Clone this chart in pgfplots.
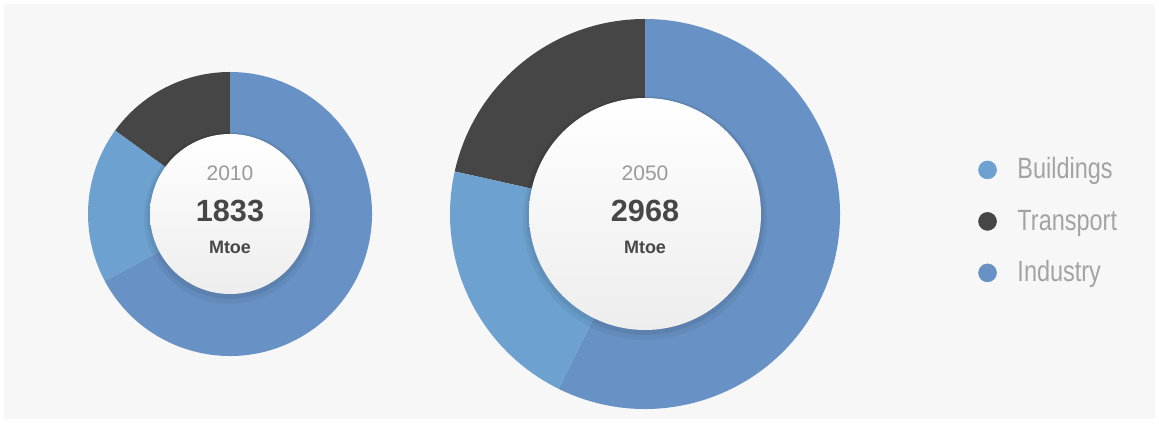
\documentclass[border=0pt]{standalone}
\usepackage{fontspec}
\setmainfont{Liberation Sans}
\newfontfamily\legfont[FakeStretch=0.8]{Liberation Sans}
\usepackage{pgfplots}
\usepackage{pgfplotstable}
\pgfplotsset{compat=1.18}

\definecolor{cind}{HTML}{6892C5}
\definecolor{cbuild}{HTML}{6DA2D0}
\definecolor{ctrans}{HTML}{464646}
\definecolor{cbg}{HTML}{F7F7F7}
\definecolor{cyear}{HTML}{9A9A9A}
\definecolor{ctotal}{HTML}{474747}
\definecolor{cleg}{HTML}{A3A3A3}

% shares in percent, centre and radii in pixels of the original
\pgfplotstableread{
year total buildings transport industry cx  cy  rout rin
2010 1833  17.8      15.0      67.2     230 209 142  80
2050 2968  21.2      21.5      57.3     645 209 195  116
}\donuts

\tikzset{
  yearlab/.style={font=\fontsize{15.75}{18}\selectfont, text=cyear, inner sep=0pt},
  totlab/.style={font=\bfseries\fontsize{23}{26}\selectfont, text=ctotal, inner sep=0pt},
  unitlab/.style={font=\bfseries\fontsize{13.5}{16}\selectfont, text=ctotal, inner sep=0pt},
}

\newcommand\getval[2]{\pgfplotstablegetelem{#1}{#2}\of\donuts\edef\tmpval{\pgfplotsretval}}

\newcommand\donut[1]{%
  \getval{#1}{cx}\let\cx\tmpval
  \getval{#1}{cy}\let\cy\tmpval
  \getval{#1}{year}\let\yr\tmpval
  \getval{#1}{total}\let\tot\tmpval
  \getval{#1}{transport}\pgfmathsetmacro\aB{90+3.6*\tmpval}%
  \getval{#1}{buildings}\pgfmathsetmacro\aC{\aB+3.6*\tmpval}%
  \getval{#1}{rout}\pgfmathsetmacro\Ro{0.75*\tmpval}%
  \getval{#1}{rin}\pgfmathsetmacro\Ri{0.75*\tmpval}%
  \pgfmathsetmacro\Rsa{\Ri+4.5}%
  \pgfmathsetmacro\Rsb{\Ri+2.2}%
  \edef\doit{%
    \noexpand\fill[ctrans] (axis cs:\cx,\cy) -- ++(90:\Ro pt) arc[start angle=90,end angle=\aB,radius=\Ro pt] -- cycle;
    \noexpand\fill[cbuild] (axis cs:\cx,\cy) -- ++(\aB:\Ro pt) arc[start angle=\aB,end angle=\aC,radius=\Ro pt] -- cycle;
    \noexpand\fill[cind] (axis cs:\cx,\cy) -- ++(\aC:\Ro pt) arc[start angle=\aC,end angle=450,radius=\Ro pt] -- cycle;
    \noexpand\fill[black, opacity=0.05] ([yshift=-3pt]axis cs:\cx,\cy) circle[radius=\Rsa pt];
    \noexpand\fill[black, opacity=0.06] ([yshift=-1.5pt]axis cs:\cx,\cy) circle[radius=\Rsb pt];
    \noexpand\shade[top color=white, bottom color=black!7] (axis cs:\cx,\cy) circle[radius=\Ri pt];
    \noexpand\node[yearlab] at ([yshift=30.5pt]axis cs:\cx,\cy) {\yr};
    \noexpand\node[totlab] at ([yshift=2.3pt]axis cs:\cx,\cy) {\tot};
    \noexpand\node[unitlab] at ([yshift=-25pt]axis cs:\cx,\cy) {Mtoe};
  }\doit
}

\begin{document}
\begin{tikzpicture}
\begin{axis}[
  x=0.75pt, y=0.75pt,
  xmin=0, xmax=1159, ymin=0, ymax=423,
  hide axis, clip=false,
  legend cell align=left,
  legend style={at={(axis cs:974,268)}, anchor=north west, draw=none, fill=none,
    font=\legfont\fontsize{22}{26}\selectfont, text=cleg, row sep=18.2pt,
    nodes={inner sep=0pt, text height=15.8pt, text depth=4.6pt},
    /tikz/every odd column/.append style={column sep=15.5pt}},
  legend image code/.code={\fill[#1] (6.75pt,1.2pt) circle[radius=6.75pt];},
]
\fill[white] (axis cs:0,0) rectangle (axis cs:1159,423);
\fill[cbg] (axis cs:4,4) rectangle (axis cs:1155,419);
\donut{0}
\donut{1}
\addlegendimage{cbuild}
\addlegendentry{Buildings}
\addlegendimage{ctrans}
\addlegendentry{Transport}
\addlegendimage{cind}
\addlegendentry{Industry}
\end{axis}
\end{tikzpicture}
\end{document}
